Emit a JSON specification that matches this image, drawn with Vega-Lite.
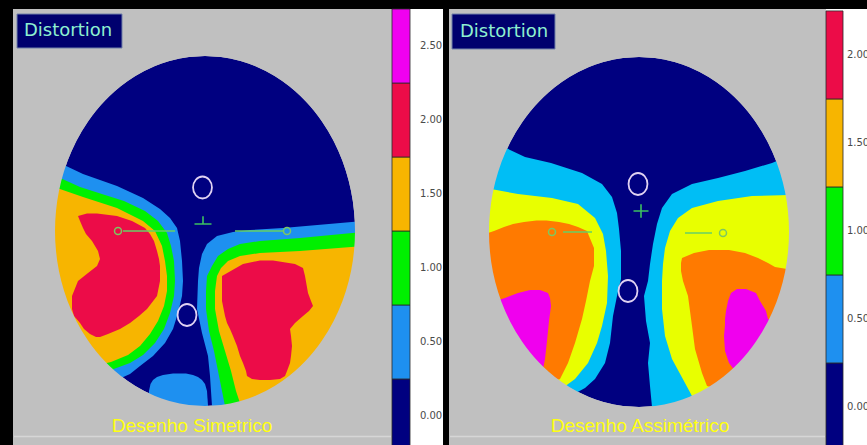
{
"$schema": "https://vega.github.io/schema/vega-lite/v6.json",
"background": "#000000",
"padding": {"left": 13, "top": 8, "right": 0, "bottom": 0},
"config": {"view": {"stroke": null}, "axis": {"disable": true}, "legend": {"disable": true}},
"datasets": {
"ell": [
{"y":35,"a":0,"b":0},{"y":34.8,"a":-3.2,"b":3.2},{"y":34.5,"a":-5.05,"b":5.05},{"y":34,"a":-7.12,"b":7.12},{"y":33.5,"a":-8.69,"b":8.69},{"y":33,"a":-10,"b":10},{"y":32,"a":-12.15,"b":12.15},{"y":31,"a":-13.93,"b":13.93},{"y":30,"a":-15.45,"b":15.45},{"y":29,"a":-16.8,"b":16.8},{"y":28,"a":-18,"b":18},{"y":27,"a":-19.09,"b":19.09},{"y":26,"a":-20.08,"b":20.08},{"y":25,"a":-21,"b":21},{"y":24,"a":-21.84,"b":21.84},{"y":23,"a":-22.61,"b":22.61},{"y":22,"a":-23.33,"b":23.33},{"y":20,"a":-24.62,"b":24.62},{"y":18,"a":-25.73,"b":25.73},{"y":16,"a":-26.68,"b":26.68},{"y":14,"a":-27.5,"b":27.5},{"y":12,"a":-28.18,"b":28.18},{"y":10,"a":-28.75,"b":28.75},{"y":8,"a":-29.21,"b":29.21},{"y":6,"a":-29.56,"b":29.56},{"y":4,"a":-29.8,"b":29.8},{"y":2,"a":-29.95,"b":29.95},{"y":0,"a":-30,"b":30},
{"y":-2,"a":-29.95,"b":29.95},{"y":-4,"a":-29.8,"b":29.8},{"y":-6,"a":-29.56,"b":29.56},{"y":-8,"a":-29.21,"b":29.21},{"y":-10,"a":-28.75,"b":28.75},{"y":-12,"a":-28.18,"b":28.18},{"y":-14,"a":-27.5,"b":27.5},{"y":-16,"a":-26.68,"b":26.68},{"y":-18,"a":-25.73,"b":25.73},{"y":-20,"a":-24.62,"b":24.62},{"y":-22,"a":-23.33,"b":23.33},{"y":-23,"a":-22.61,"b":22.61},{"y":-24,"a":-21.84,"b":21.84},{"y":-25,"a":-21,"b":21},{"y":-26,"a":-20.08,"b":20.08},{"y":-27,"a":-19.09,"b":19.09},{"y":-28,"a":-18,"b":18},{"y":-29,"a":-16.8,"b":16.8},{"y":-30,"a":-15.45,"b":15.45},{"y":-31,"a":-13.93,"b":13.93},{"y":-32,"a":-12.15,"b":12.15},{"y":-33,"a":-10,"b":10},{"y":-33.5,"a":-8.69,"b":8.69},{"y":-34,"a":-7.12,"b":7.12},{"y":-34.5,"a":-5.05,"b":5.05},{"y":-34.8,"a":-3.2,"b":3.2},{"y":-35,"a":0,"b":0}
],
"pcs": [
{"p":"L","k":"a1","v":1,"y":13.2,"a":-32,"b":-28.2},{"p":"L","k":"a1","v":1,"y":11.4,"a":-32,"b":-24.4},{"p":"L","k":"a1","v":1,"y":9,"a":-32,"b":-17.6},{"p":"L","k":"a1","v":1,"y":6.6,"a":-32,"b":-12.4},{"p":"L","k":"a1","v":1,"y":4.4,"a":-32,"b":-9},{"p":"L","k":"a1","v":1,"y":2.6,"a":-32,"b":-7},{"p":"L","k":"a1","v":1,"y":0.6,"a":-32,"b":-5.6},{"p":"L","k":"a1","v":1,"y":-2,"a":-32,"b":-5},{"p":"L","k":"a1","v":1,"y":-6,"a":-32,"b":-4.6},{"p":"L","k":"a1","v":1,"y":-10,"a":-32,"b":-4.4},{"p":"L","k":"a1","v":1,"y":-13,"a":-32,"b":-4.6},{"p":"L","k":"a1","v":1,"y":-16.4,"a":-32,"b":-5.4},{"p":"L","k":"a1","v":1,"y":-19.6,"a":-32,"b":-6.4},{"p":"L","k":"a1","v":1,"y":-22.4,"a":-32,"b":-8},{"p":"L","k":"a1","v":1,"y":-25,"a":-32,"b":-10.4},{"p":"L","k":"a1","v":1,"y":-27,"a":-32,"b":-13},{"p":"L","k":"a1","v":1,"y":-28.6,"a":-32,"b":-15},{"p":"L","k":"a1","v":1,"y":-29.5,"a":-32,"b":-17},
{"p":"L","k":"b1","v":1,"y":1.9,"a":30.5,"b":32},{"p":"L","k":"b1","v":1,"y":0.6,"a":15.6,"b":32},{"p":"L","k":"b1","v":1,"y":0.2,"a":9,"b":32},{"p":"L","k":"b1","v":1,"y":-0.2,"a":5.6,"b":32},{"p":"L","k":"b1","v":1,"y":-1,"a":2.4,"b":32},{"p":"L","k":"b1","v":1,"y":-2.6,"a":0.4,"b":32},{"p":"L","k":"b1","v":1,"y":-4.6,"a":-0.6,"b":32},{"p":"L","k":"b1","v":1,"y":-7.4,"a":-1.2,"b":32},{"p":"L","k":"b1","v":1,"y":-10,"a":-1.4,"b":32},{"p":"L","k":"b1","v":1,"y":-15.6,"a":-1.6,"b":32},{"p":"L","k":"b1","v":1,"y":-20.4,"a":-0.6,"b":32},{"p":"L","k":"b1","v":1,"y":-25,"a":0.6,"b":32},{"p":"L","k":"b1","v":1,"y":-29,"a":1,"b":32},{"p":"L","k":"b1","v":1,"y":-35,"a":1.4,"b":32},
{"p":"L","k":"c1","v":1,"y":-28.5,"a":-6.4,"b":-3.8},{"p":"L","k":"c1","v":1,"y":-28.8,"a":-8.4,"b":-2.4},{"p":"L","k":"c1","v":1,"y":-29.2,"a":-9.6,"b":-1.4},{"p":"L","k":"c1","v":1,"y":-29.8,"a":-10.4,"b":-0.6},{"p":"L","k":"c1","v":1,"y":-30.6,"a":-10.9,"b":0},{"p":"L","k":"c1","v":1,"y":-32,"a":-11.2,"b":0.4},{"p":"L","k":"c1","v":1,"y":-35,"a":-11.4,"b":0.6},
{"p":"L","k":"a2","v":2,"y":10.8,"a":-32,"b":-29.4},{"p":"L","k":"a2","v":2,"y":8.8,"a":-32,"b":-25},{"p":"L","k":"a2","v":2,"y":7.2,"a":-32,"b":-20},{"p":"L","k":"a2","v":2,"y":6,"a":-32,"b":-16.2},{"p":"L","k":"a2","v":2,"y":4,"a":-32,"b":-12},{"p":"L","k":"a2","v":2,"y":2,"a":-32,"b":-9.4},{"p":"L","k":"a2","v":2,"y":-0.4,"a":-32,"b":-7.6},{"p":"L","k":"a2","v":2,"y":-3,"a":-32,"b":-6.8},{"p":"L","k":"a2","v":2,"y":-6,"a":-32,"b":-6.2},{"p":"L","k":"a2","v":2,"y":-10,"a":-32,"b":-6},{"p":"L","k":"a2","v":2,"y":-13,"a":-32,"b":-6.2},{"p":"L","k":"a2","v":2,"y":-16.4,"a":-32,"b":-7},{"p":"L","k":"a2","v":2,"y":-19.6,"a":-32,"b":-8.2},{"p":"L","k":"a2","v":2,"y":-22.4,"a":-32,"b":-10},{"p":"L","k":"a2","v":2,"y":-24.8,"a":-32,"b":-12.4},{"p":"L","k":"a2","v":2,"y":-26.4,"a":-32,"b":-15},{"p":"L","k":"a2","v":2,"y":-27.8,"a":-32,"b":-18.8},
{"p":"L","k":"b2","v":2,"y":-0.3,"a":30.5,"b":32},{"p":"L","k":"b2","v":2,"y":-1.4,"a":19,"b":32},{"p":"L","k":"b2","v":2,"y":-2,"a":11,"b":32},{"p":"L","k":"b2","v":2,"y":-2.6,"a":7,"b":32},{"p":"L","k":"b2","v":2,"y":-3.6,"a":4.6,"b":32},{"p":"L","k":"b2","v":2,"y":-5,"a":2.6,"b":32},{"p":"L","k":"b2","v":2,"y":-7,"a":1.4,"b":32},{"p":"L","k":"b2","v":2,"y":-9,"a":0.4,"b":32},{"p":"L","k":"b2","v":2,"y":-12,"a":0.2,"b":32},{"p":"L","k":"b2","v":2,"y":-15.6,"a":0.2,"b":32},{"p":"L","k":"b2","v":2,"y":-20,"a":0.8,"b":32},{"p":"L","k":"b2","v":2,"y":-24,"a":1.8,"b":32},{"p":"L","k":"b2","v":2,"y":-28,"a":2.6,"b":32},{"p":"L","k":"b2","v":2,"y":-32,"a":3.4,"b":32},{"p":"L","k":"b2","v":2,"y":-35,"a":4,"b":32},
{"p":"L","k":"a3","v":3,"y":8.6,"a":-32,"b":-29.6},{"p":"L","k":"a3","v":3,"y":6.8,"a":-32,"b":-24.4},{"p":"L","k":"a3","v":3,"y":4.6,"a":-32,"b":-17.6},{"p":"L","k":"a3","v":3,"y":2,"a":-32,"b":-12.4},{"p":"L","k":"a3","v":3,"y":0,"a":-32,"b":-10},{"p":"L","k":"a3","v":3,"y":-3,"a":-32,"b":-8.6},{"p":"L","k":"a3","v":3,"y":-6,"a":-32,"b":-8},{"p":"L","k":"a3","v":3,"y":-9,"a":-32,"b":-7.6},{"p":"L","k":"a3","v":3,"y":-12,"a":-32,"b":-7.6},{"p":"L","k":"a3","v":3,"y":-15,"a":-32,"b":-8.2},{"p":"L","k":"a3","v":3,"y":-18,"a":-32,"b":-9.4},{"p":"L","k":"a3","v":3,"y":-20.6,"a":-32,"b":-11},{"p":"L","k":"a3","v":3,"y":-23,"a":-32,"b":-13},{"p":"L","k":"a3","v":3,"y":-24.8,"a":-32,"b":-15.4},{"p":"L","k":"a3","v":3,"y":-26.2,"a":-32,"b":-18.8},{"p":"L","k":"a3","v":3,"y":-26.6,"a":-32,"b":-20.5},
{"p":"L","k":"b3","v":3,"y":-3.1,"a":30.5,"b":32},{"p":"L","k":"b3","v":3,"y":-4,"a":19,"b":32},{"p":"L","k":"b3","v":3,"y":-4.4,"a":11,"b":32},{"p":"L","k":"b3","v":3,"y":-5,"a":7,"b":32},{"p":"L","k":"b3","v":3,"y":-6,"a":4.6,"b":32},{"p":"L","k":"b3","v":3,"y":-7.4,"a":3.2,"b":32},{"p":"L","k":"b3","v":3,"y":-9,"a":2.4,"b":32},{"p":"L","k":"b3","v":3,"y":-12,"a":2,"b":32},{"p":"L","k":"b3","v":3,"y":-15.6,"a":2,"b":32},{"p":"L","k":"b3","v":3,"y":-20,"a":2.8,"b":32},{"p":"L","k":"b3","v":3,"y":-24,"a":4,"b":32},{"p":"L","k":"b3","v":3,"y":-28,"a":5.2,"b":32},{"p":"L","k":"b3","v":3,"y":-32,"a":6.2,"b":32},{"p":"L","k":"b3","v":3,"y":-35,"a":7.2,"b":32},
{"p":"L","k":"a4","v":4,"y":3.5,"a":-23.6,"b":-21.6},{"p":"L","k":"a4","v":4,"y":3,"a":-25.4,"b":-17.6},{"p":"L","k":"a4","v":4,"y":2,"a":-25,"b":-14.6},{"p":"L","k":"a4","v":4,"y":0.6,"a":-24.4,"b":-12},{"p":"L","k":"a4","v":4,"y":-0.6,"a":-23.8,"b":-11},{"p":"L","k":"a4","v":4,"y":-2,"a":-22.6,"b":-10.2},{"p":"L","k":"a4","v":4,"y":-4,"a":-21.4,"b":-9.6},{"p":"L","k":"a4","v":4,"y":-5.6,"a":-21,"b":-9.2},{"p":"L","k":"a4","v":4,"y":-7,"a":-21.6,"b":-9},{"p":"L","k":"a4","v":4,"y":-8.4,"a":-23.4,"b":-9},{"p":"L","k":"a4","v":4,"y":-10,"a":-25.4,"b":-9},{"p":"L","k":"a4","v":4,"y":-13,"a":-26.6,"b":-9.6},{"p":"L","k":"a4","v":4,"y":-15.6,"a":-26.6,"b":-11.6},{"p":"L","k":"a4","v":4,"y":-17,"a":-26.2,"b":-13.2},{"p":"L","k":"a4","v":4,"y":-18.4,"a":-25,"b":-15},{"p":"L","k":"a4","v":4,"y":-19.6,"a":-24.2,"b":-17},{"p":"L","k":"a4","v":4,"y":-20.6,"a":-23,"b":-19.4},{"p":"L","k":"a4","v":4,"y":-21.2,"a":-21.8,"b":-21},
{"p":"L","k":"b4","v":4,"y":-5.9,"a":11,"b":13.6},{"p":"L","k":"b4","v":4,"y":-6.6,"a":7.6,"b":18},{"p":"L","k":"b4","v":4,"y":-7.4,"a":6.2,"b":19.6},{"p":"L","k":"b4","v":4,"y":-9,"a":3.4,"b":20},{"p":"L","k":"b4","v":4,"y":-12.4,"a":3.4,"b":20.6},{"p":"L","k":"b4","v":4,"y":-14,"a":3.4,"b":21.2},{"p":"L","k":"b4","v":4,"y":-15,"a":3.6,"b":21.6},{"p":"L","k":"b4","v":4,"y":-16,"a":3.8,"b":20.8},{"p":"L","k":"b4","v":4,"y":-17,"a":4,"b":19.6},{"p":"L","k":"b4","v":4,"y":-18.4,"a":4.4,"b":18},{"p":"L","k":"b4","v":4,"y":-19.6,"a":5,"b":17},{"p":"L","k":"b4","v":4,"y":-21,"a":5.6,"b":17.2},{"p":"L","k":"b4","v":4,"y":-23,"a":6.4,"b":17.4},{"p":"L","k":"b4","v":4,"y":-25,"a":7,"b":17.2},{"p":"L","k":"b4","v":4,"y":-26.4,"a":7.6,"b":17},{"p":"L","k":"b4","v":4,"y":-28,"a":8.2,"b":16.4},{"p":"L","k":"b4","v":4,"y":-29,"a":8.4,"b":16},{"p":"L","k":"b4","v":4,"y":-29.6,"a":9.4,"b":15},{"p":"L","k":"b4","v":4,"y":-29.8,"a":11,"b":13},
{"p":"R","k":"a1","v":1,"y":17,"a":-32,"b":-27},{"p":"R","k":"a1","v":1,"y":15,"a":-32,"b":-22.8},{"p":"R","k":"a1","v":1,"y":13.8,"a":-32,"b":-17.6},{"p":"R","k":"a1","v":1,"y":11.8,"a":-32,"b":-11.4},{"p":"R","k":"a1","v":1,"y":9.6,"a":-32,"b":-7.4},{"p":"R","k":"a1","v":1,"y":7,"a":-32,"b":-5.4},{"p":"R","k":"a1","v":1,"y":3.8,"a":-32,"b":-4.4},{"p":"R","k":"a1","v":1,"y":0.6,"a":-32,"b":-4},{"p":"R","k":"a1","v":1,"y":-3.8,"a":-32,"b":-3.6},{"p":"R","k":"a1","v":1,"y":-9.4,"a":-32,"b":-3.6},{"p":"R","k":"a1","v":1,"y":-12.8,"a":-32,"b":-4.4},{"p":"R","k":"a1","v":1,"y":-16.8,"a":-32,"b":-5.2},{"p":"R","k":"a1","v":1,"y":-22.2,"a":-32,"b":-5.8},{"p":"R","k":"a1","v":1,"y":-26.2,"a":-32,"b":-6.8},{"p":"R","k":"a1","v":1,"y":-29.4,"a":-32,"b":-8.8},{"p":"R","k":"a1","v":1,"y":-31.2,"a":-32,"b":-10.8},{"p":"R","k":"a1","v":1,"y":-32.3,"a":-32,"b":-12.8},
{"p":"R","k":"b1","v":1,"y":14.6,"a":28.5,"b":32},{"p":"R","k":"b1","v":1,"y":13.8,"a":26.6,"b":32},{"p":"R","k":"b1","v":1,"y":12.2,"a":21.2,"b":32},{"p":"R","k":"b1","v":1,"y":10.8,"a":15.8,"b":32},{"p":"R","k":"b1","v":1,"y":9.6,"a":10.6,"b":32},{"p":"R","k":"b1","v":1,"y":7.6,"a":6.6,"b":32},{"p":"R","k":"b1","v":1,"y":4.8,"a":4.6,"b":32},{"p":"R","k":"b1","v":1,"y":1.6,"a":3.6,"b":32},{"p":"R","k":"b1","v":1,"y":-2.4,"a":2.8,"b":32},{"p":"R","k":"b1","v":1,"y":-6.4,"a":2.2,"b":32},{"p":"R","k":"b1","v":1,"y":-9.8,"a":1.8,"b":32},{"p":"R","k":"b1","v":1,"y":-12.8,"a":1,"b":32},{"p":"R","k":"b1","v":1,"y":-17.8,"a":1.4,"b":32},{"p":"R","k":"b1","v":1,"y":-22.2,"a":2.2,"b":32},{"p":"R","k":"b1","v":1,"y":-26.2,"a":1.8,"b":32},{"p":"R","k":"b1","v":1,"y":-30.8,"a":2.2,"b":32},{"p":"R","k":"b1","v":1,"y":-35,"a":2.6,"b":32},
{"p":"R","k":"a2","v":2,"y":8.6,"a":-32,"b":-29.6},{"p":"R","k":"a2","v":2,"y":7.6,"a":-32,"b":-24.2},{"p":"R","k":"a2","v":2,"y":6.8,"a":-32,"b":-17.4},{"p":"R","k":"a2","v":2,"y":5.6,"a":-32,"b":-12.2},{"p":"R","k":"a2","v":2,"y":2.8,"a":-32,"b":-8.8},{"p":"R","k":"a2","v":2,"y":-0.4,"a":-32,"b":-7.2},{"p":"R","k":"a2","v":2,"y":-3.8,"a":-32,"b":-6.6},{"p":"R","k":"a2","v":2,"y":-8.8,"a":-32,"b":-6.2},{"p":"R","k":"a2","v":2,"y":-14.2,"a":-32,"b":-6.4},{"p":"R","k":"a2","v":2,"y":-18.8,"a":-32,"b":-7.4},{"p":"R","k":"a2","v":2,"y":-22.2,"a":-32,"b":-8.4},{"p":"R","k":"a2","v":2,"y":-26.2,"a":-32,"b":-10.2},{"p":"R","k":"a2","v":2,"y":-29.4,"a":-32,"b":-12.8},{"p":"R","k":"a2","v":2,"y":-31,"a":-32,"b":-15},
{"p":"R","k":"b2","v":2,"y":7.4,"a":30,"b":32},{"p":"R","k":"b2","v":2,"y":7.2,"a":22.6,"b":32},{"p":"R","k":"b2","v":2,"y":6.2,"a":15.8,"b":32},{"p":"R","k":"b2","v":2,"y":4.8,"a":10.6,"b":32},{"p":"R","k":"b2","v":2,"y":2.8,"a":7.8,"b":32},{"p":"R","k":"b2","v":2,"y":0.2,"a":6.2,"b":32},{"p":"R","k":"b2","v":2,"y":-3.2,"a":5.2,"b":32},{"p":"R","k":"b2","v":2,"y":-6.4,"a":4.8,"b":32},{"p":"R","k":"b2","v":2,"y":-9.8,"a":4.6,"b":32},{"p":"R","k":"b2","v":2,"y":-15.4,"a":4.6,"b":32},{"p":"R","k":"b2","v":2,"y":-20.8,"a":5.2,"b":32},{"p":"R","k":"b2","v":2,"y":-25.4,"a":6.6,"b":32},{"p":"R","k":"b2","v":2,"y":-30.2,"a":9.2,"b":32},{"p":"R","k":"b2","v":2,"y":-32.8,"a":10.6,"b":32},{"p":"R","k":"b2","v":2,"y":-35,"a":11,"b":32},
{"p":"R","k":"a3","v":3,"y":2.3,"a":-20.5,"b":-18.5},{"p":"R","k":"a3","v":3,"y":2,"a":-23,"b":-16},{"p":"R","k":"a3","v":3,"y":1.6,"a":-25.2,"b":-14},{"p":"R","k":"a3","v":3,"y":1,"a":-27,"b":-12.2},{"p":"R","k":"a3","v":3,"y":0.2,"a":-29,"b":-10.4},{"p":"R","k":"a3","v":3,"y":-0.8,"a":-32,"b":-10},{"p":"R","k":"a3","v":3,"y":-3.2,"a":-32,"b":-9},{"p":"R","k":"a3","v":3,"y":-6.8,"a":-32,"b":-9},{"p":"R","k":"a3","v":3,"y":-9.8,"a":-32,"b":-9.8},{"p":"R","k":"a3","v":3,"y":-13.8,"a":-32,"b":-10.6},{"p":"R","k":"a3","v":3,"y":-17.4,"a":-32,"b":-11.4},{"p":"R","k":"a3","v":3,"y":-22.2,"a":-32,"b":-12.8},{"p":"R","k":"a3","v":3,"y":-26.2,"a":-32,"b":-14.2},{"p":"R","k":"a3","v":3,"y":-29.4,"a":-32,"b":-15.8},{"p":"R","k":"a3","v":3,"y":-29.8,"a":-32,"b":-17},
{"p":"R","k":"b3","v":3,"y":-3.6,"a":14,"b":18},{"p":"R","k":"b3","v":3,"y":-4.2,"a":11,"b":21.2},{"p":"R","k":"b3","v":3,"y":-5.2,"a":8.6,"b":23.8},{"p":"R","k":"b3","v":3,"y":-6.2,"a":8.4,"b":25.8},{"p":"R","k":"b3","v":3,"y":-7,"a":8.4,"b":27.2},{"p":"R","k":"b3","v":3,"y":-7.8,"a":8.4,"b":32},{"p":"R","k":"b3","v":3,"y":-9.8,"a":8.8,"b":32},{"p":"R","k":"b3","v":3,"y":-12.8,"a":9.8,"b":32},{"p":"R","k":"b3","v":3,"y":-18.8,"a":10.6,"b":32},{"p":"R","k":"b3","v":3,"y":-23.4,"a":11.2,"b":32},{"p":"R","k":"b3","v":3,"y":-28.2,"a":12.6,"b":32},{"p":"R","k":"b3","v":3,"y":-30.8,"a":13.6,"b":32},{"p":"R","k":"b3","v":3,"y":-31.4,"a":16,"b":32},
{"p":"R","k":"a4","v":4,"y":-11.6,"a":-21.8,"b":-19.8},{"p":"R","k":"a4","v":4,"y":-12.2,"a":-24.2,"b":-18.2},{"p":"R","k":"a4","v":4,"y":-13.2,"a":-26.8,"b":-17.8},{"p":"R","k":"a4","v":4,"y":-14.8,"a":-32,"b":-17.6},{"p":"R","k":"a4","v":4,"y":-17.8,"a":-32,"b":-18},{"p":"R","k":"a4","v":4,"y":-21.8,"a":-32,"b":-18.4},{"p":"R","k":"a4","v":4,"y":-25.4,"a":-32,"b":-18.8},{"p":"R","k":"a4","v":4,"y":-27.4,"a":-32,"b":-19.2},{"p":"R","k":"a4","v":4,"y":-27.8,"a":-32,"b":-19.6},
{"p":"R","k":"b4","v":4,"y":-11.4,"a":19.6,"b":21.4},{"p":"R","k":"b4","v":4,"y":-12.2,"a":18.4,"b":23.4},{"p":"R","k":"b4","v":4,"y":-13.8,"a":17.8,"b":24.2},{"p":"R","k":"b4","v":4,"y":-15.8,"a":17.4,"b":25.4},{"p":"R","k":"b4","v":4,"y":-17.4,"a":17.2,"b":25.8},{"p":"R","k":"b4","v":4,"y":-18.6,"a":17.2,"b":32},{"p":"R","k":"b4","v":4,"y":-20.8,"a":17,"b":32},{"p":"R","k":"b4","v":4,"y":-23.8,"a":17.2,"b":32},{"p":"R","k":"b4","v":4,"y":-26.2,"a":18,"b":32},{"p":"R","k":"b4","v":4,"y":-27.8,"a":19.2,"b":32},{"p":"R","k":"b4","v":4,"y":-28.2,"a":21,"b":32}
],
"mk": [
{"p":"L","t":"ring","a":-0.5,"y":8.7},{"p":"L","t":"ring","a":-3.6,"y":-16.8},{"p":"L","t":"cross","a":-0.4,"y":2.0},{"p":"L","t":"dot","a":-17.4,"y":0},{"p":"L","t":"dot","a":16.4,"y":0},{"p":"L","t":"line","a":-16.4,"b":-6,"y":0},{"p":"L","t":"line","a":6,"b":15.6,"y":0},
{"p":"R","t":"ring","a":-0.2,"y":9.6},{"p":"R","t":"ring","a":-2.2,"y":-11.8},{"p":"R","t":"plus","a":0.4,"y":4.2},{"p":"R","t":"dot","a":-17.4,"y":0},{"p":"R","t":"dot","a":16.8,"y":-0.2},{"p":"R","t":"line","a":-15.2,"b":-9.4,"y":0},{"p":"R","t":"line","a":9.2,"b":14.6,"y":-0.2}
],
"barL": [
{"v":0,"lo":-0.25,"hi":0.25},{"v":0.5,"lo":0.25,"hi":0.75},{"v":1,"lo":0.75,"hi":1.25},{"v":1.5,"lo":1.25,"hi":1.75},{"v":2,"lo":1.75,"hi":2.25},{"v":2.5,"lo":2.25,"hi":2.75}
],
"barR": [
{"v":0,"lo":-0.25,"hi":0.25},{"v":0.5,"lo":0.25,"hi":0.75},{"v":1,"lo":0.75,"hi":1.25},{"v":1.5,"lo":1.25,"hi":1.75},{"v":2,"lo":1.75,"hi":2.25}
]
},
"spacing": 0,
"bounds": "flush",
"hconcat": [
{
"width": 379, "height": 437,
"view": {"fill": "#C0C0C0", "stroke": null},
"layer": [
{"data": {"name": "ell"}, "mark": {"type": "area", "orient": "horizontal", "color": "#000080"}, "encoding": {"x": {"field": "a", "type": "quantitative", "scale": {"domain": [-38.4, 37.4], "nice": false, "zero": false}, "axis": null, "stack": null}, "y": {"field": "y", "type": "quantitative", "scale": {"domain": [-43, 44.4], "nice": false, "zero": false}, "axis": null}, "x2": {"field": "b"}}},
{"data": {"name": "pcs"}, "transform": [{"filter": "datum.p==='L'&&datum.v===1"}], "mark": {"type": "area", "orient": "horizontal", "color": "#1E90F0"}, "encoding": {"x": {"field": "a", "type": "quantitative", "stack": null}, "y": {"field": "y", "type": "quantitative"}, "x2": {"field": "b"}, "detail": {"field": "k"}}},
{"data": {"name": "pcs"}, "transform": [{"filter": "datum.p==='L'&&datum.v===2"}], "mark": {"type": "area", "orient": "horizontal", "color": "#00F000"}, "encoding": {"x": {"field": "a", "type": "quantitative", "stack": null}, "y": {"field": "y", "type": "quantitative"}, "x2": {"field": "b"}, "detail": {"field": "k"}}},
{"data": {"name": "pcs"}, "transform": [{"filter": "datum.p==='L'&&datum.v===3"}], "mark": {"type": "area", "orient": "horizontal", "color": "#F7B500"}, "encoding": {"x": {"field": "a", "type": "quantitative", "stack": null}, "y": {"field": "y", "type": "quantitative"}, "x2": {"field": "b"}, "detail": {"field": "k"}}},
{"data": {"name": "pcs"}, "transform": [{"filter": "datum.p==='L'&&datum.v===4"}], "mark": {"type": "area", "orient": "horizontal", "color": "#EC0C48"}, "encoding": {"x": {"field": "a", "type": "quantitative", "stack": null}, "y": {"field": "y", "type": "quantitative"}, "x2": {"field": "b"}, "detail": {"field": "k"}}},
{"data": {"name": "ell"}, "mark": {"type": "area", "orient": "horizontal", "color": "#C0C0C0", "clip": true}, "encoding": {"x": {"field": "a", "type": "quantitative", "stack": null}, "y": {"field": "y", "type": "quantitative"}, "x2": {"datum": -45}}},
{"data": {"name": "ell"}, "mark": {"type": "area", "orient": "horizontal", "color": "#C0C0C0", "clip": true}, "encoding": {"x": {"field": "b", "type": "quantitative", "stack": null}, "y": {"field": "y", "type": "quantitative"}, "x2": {"datum": 45}}},
{"data": {"name": "mk"}, "transform": [{"filter": "datum.p==='L'&&datum.t==='line'"}], "mark": {"type": "rule", "color": "#66D066", "strokeWidth": 1.5}, "encoding": {"x": {"field": "a", "type": "quantitative"}, "y": {"field": "y", "type": "quantitative"}, "x2": {"field": "b"}}},
{"data": {"name": "mk"}, "transform": [{"filter": "datum.p==='L'&&datum.t==='ring'"}], "mark": {"type": "point", "shape": "M 0 -1 A 0.86 1 0 1 1 0 1 A 0.86 1 0 1 1 0 -1 Z", "filled": false, "stroke": "#E0D2F2", "strokeWidth": 1.8, "size": 484, "opacity": 1}, "encoding": {"x": {"field": "a", "type": "quantitative"}, "y": {"field": "y", "type": "quantitative"}}},
{"data": {"name": "mk"}, "transform": [{"filter": "datum.p==='L'&&datum.t==='cross'"}], "mark": {"type": "point", "shape": "M -1 0.35 L 1 0.35 M 0 -0.55 L 0 0.35", "filled": false, "stroke": "#3CC060", "strokeWidth": 1.6, "size": 289, "opacity": 1}, "encoding": {"x": {"field": "a", "type": "quantitative"}, "y": {"field": "y", "type": "quantitative"}}},
{"data": {"name": "mk"}, "transform": [{"filter": "datum.p==='L'&&datum.t==='dot'"}], "mark": {"type": "point", "shape": "circle", "filled": false, "stroke": "#7CC860", "strokeWidth": 1.5, "size": 49, "opacity": 1}, "encoding": {"x": {"field": "a", "type": "quantitative"}, "y": {"field": "y", "type": "quantitative"}}},
{"data": {"values": [{"t": "Distortion"}]}, "mark": {"type": "rect", "fill": "#00006E", "stroke": "#7080A8", "strokeWidth": 1}, "encoding": {"x": {"datum": -37.6, "type": "quantitative"}, "x2": {"datum": -16.6}, "y": {"datum": 43.4, "type": "quantitative"}, "y2": {"datum": 36.6}}},
{"data": {"values": [{"t": "Distortion"}]}, "mark": {"type": "text", "align": "left", "baseline": "middle", "font": "DejaVu Sans", "fontSize": 18, "color": "#8EF0D0"}, "encoding": {"x": {"datum": -36.2, "type": "quantitative"}, "y": {"datum": 40, "type": "quantitative"}, "text": {"field": "t"}}},
{"data": {"values": [{"t": "Desenho Simetrico"}]}, "mark": {"type": "text", "align": "center", "baseline": "middle", "font": "Liberation Sans", "fontSize": 19, "color": "#FFFF10"}, "encoding": {"x": {"datum": -2.6, "type": "quantitative"}, "y": {"datum": -39, "type": "quantitative"}, "text": {"field": "t"}}},
{"data": {"values": [{"t": "frame"}]}, "mark": {"type": "rule", "color": "#D6D6D6", "strokeWidth": 1.5}, "encoding": {"x": {"datum": -38.2, "type": "quantitative"}, "x2": {"datum": 37.2}, "y": {"datum": -41.1, "type": "quantitative"}}}
]
},
{
"width": 57, "height": 437,
"view": {"fill": "#FFFFFF", "stroke": null},
"data": {"name": "barL"},
"layer": [
{"mark": {"type": "rect", "stroke": "#2A2A2A", "strokeWidth": 0.8}, "encoding": {"x": {"datum": 0, "type": "quantitative", "scale": {"domain": [0, 1], "nice": false, "zero": false}, "axis": null}, "x2": {"datum": 0.316}, "y": {"field": "lo", "type": "quantitative", "scale": {"domain": [-0.203, 2.75], "nice": false, "zero": false}, "axis": null}, "y2": {"field": "hi"}, "color": {"field": "v", "type": "ordinal", "scale": {"domain": [0, 0.5, 1, 1.5, 2, 2.5], "range": ["#000080", "#1E90F0", "#00F000", "#F7B500", "#EC0C48", "#F000F0"]}, "legend": null}}},
{"mark": {"type": "text", "align": "left", "baseline": "middle", "font": "DejaVu Sans", "fontSize": 10, "color": "#4A4A4A"}, "encoding": {"x": {"datum": 0.49, "type": "quantitative"}, "y": {"field": "v", "type": "quantitative"}, "text": {"field": "v", "type": "quantitative", "format": ".2f"}}},
{"data": {"values": [{"t": "gap"}]}, "mark": {"type": "rect", "color": "#000000"}, "encoding": {"x": {"datum": 0.895, "type": "quantitative"}, "x2": {"datum": 1}, "y": {"datum": -0.203, "type": "quantitative"}, "y2": {"datum": 2.75}}}
]
},
{
"width": 377, "height": 437,
"view": {"fill": "#C0C0C0", "stroke": null},
"layer": [
{"data": {"name": "ell"}, "mark": {"type": "area", "orient": "horizontal", "color": "#000080"}, "encoding": {"x": {"field": "a", "type": "quantitative", "scale": {"domain": [-38, 37.4], "nice": false, "zero": false}, "axis": null, "stack": null}, "y": {"field": "y", "type": "quantitative", "scale": {"domain": [-42.8, 44.6], "nice": false, "zero": false}, "axis": null}, "x2": {"field": "b"}}},
{"data": {"name": "pcs"}, "transform": [{"filter": "datum.p==='R'&&datum.v===1"}], "mark": {"type": "area", "orient": "horizontal", "color": "#00BEF5"}, "encoding": {"x": {"field": "a", "type": "quantitative", "stack": null}, "y": {"field": "y", "type": "quantitative"}, "x2": {"field": "b"}, "detail": {"field": "k"}}},
{"data": {"name": "pcs"}, "transform": [{"filter": "datum.p==='R'&&datum.v===2"}], "mark": {"type": "area", "orient": "horizontal", "color": "#E8FF00"}, "encoding": {"x": {"field": "a", "type": "quantitative", "stack": null}, "y": {"field": "y", "type": "quantitative"}, "x2": {"field": "b"}, "detail": {"field": "k"}}},
{"data": {"name": "pcs"}, "transform": [{"filter": "datum.p==='R'&&datum.v===3"}], "mark": {"type": "area", "orient": "horizontal", "color": "#FF7A00"}, "encoding": {"x": {"field": "a", "type": "quantitative", "stack": null}, "y": {"field": "y", "type": "quantitative"}, "x2": {"field": "b"}, "detail": {"field": "k"}}},
{"data": {"name": "pcs"}, "transform": [{"filter": "datum.p==='R'&&datum.v===4"}], "mark": {"type": "area", "orient": "horizontal", "color": "#F000EE"}, "encoding": {"x": {"field": "a", "type": "quantitative", "stack": null}, "y": {"field": "y", "type": "quantitative"}, "x2": {"field": "b"}, "detail": {"field": "k"}}},
{"data": {"name": "ell"}, "mark": {"type": "area", "orient": "horizontal", "color": "#C0C0C0", "clip": true}, "encoding": {"x": {"field": "a", "type": "quantitative", "stack": null}, "y": {"field": "y", "type": "quantitative"}, "x2": {"datum": -45}}},
{"data": {"name": "ell"}, "mark": {"type": "area", "orient": "horizontal", "color": "#C0C0C0", "clip": true}, "encoding": {"x": {"field": "b", "type": "quantitative", "stack": null}, "y": {"field": "y", "type": "quantitative"}, "x2": {"datum": 45}}},
{"data": {"name": "mk"}, "transform": [{"filter": "datum.p==='R'&&datum.t==='line'"}], "mark": {"type": "rule", "color": "#66D066", "strokeWidth": 1.5}, "encoding": {"x": {"field": "a", "type": "quantitative"}, "y": {"field": "y", "type": "quantitative"}, "x2": {"field": "b"}}},
{"data": {"name": "mk"}, "transform": [{"filter": "datum.p==='R'&&datum.t==='ring'"}], "mark": {"type": "point", "shape": "M 0 -1 A 0.86 1 0 1 1 0 1 A 0.86 1 0 1 1 0 -1 Z", "filled": false, "stroke": "#E0D2F2", "strokeWidth": 1.8, "size": 484, "opacity": 1}, "encoding": {"x": {"field": "a", "type": "quantitative"}, "y": {"field": "y", "type": "quantitative"}}},
{"data": {"name": "mk"}, "transform": [{"filter": "datum.p==='R'&&datum.t==='plus'"}], "mark": {"type": "point", "shape": "M -1 0 L 1 0 M 0 -0.9 L 0 0.9", "filled": false, "stroke": "#3CC060", "strokeWidth": 1.6, "size": 225, "opacity": 1}, "encoding": {"x": {"field": "a", "type": "quantitative"}, "y": {"field": "y", "type": "quantitative"}}},
{"data": {"name": "mk"}, "transform": [{"filter": "datum.p==='R'&&datum.t==='dot'"}], "mark": {"type": "point", "shape": "circle", "filled": false, "stroke": "#7CC860", "strokeWidth": 1.5, "size": 49, "opacity": 1}, "encoding": {"x": {"field": "a", "type": "quantitative"}, "y": {"field": "y", "type": "quantitative"}}},
{"data": {"values": [{"t": "Distortion"}]}, "mark": {"type": "rect", "fill": "#00006E", "stroke": "#7080A8", "strokeWidth": 1}, "encoding": {"x": {"datum": -37.4, "type": "quantitative"}, "x2": {"datum": -16.8}, "y": {"datum": 43.6, "type": "quantitative"}, "y2": {"datum": 36.6}}},
{"data": {"values": [{"t": "Distortion"}]}, "mark": {"type": "text", "align": "left", "baseline": "middle", "font": "DejaVu Sans", "fontSize": 18, "color": "#8EF0D0"}, "encoding": {"x": {"datum": -35.8, "type": "quantitative"}, "y": {"datum": 40, "type": "quantitative"}, "text": {"field": "t"}}},
{"data": {"values": [{"t": "Desenho Assimétrico"}]}, "mark": {"type": "text", "align": "center", "baseline": "middle", "font": "Liberation Sans", "fontSize": 19, "color": "#FFFF10"}, "encoding": {"x": {"datum": 0.2, "type": "quantitative"}, "y": {"datum": -38.8, "type": "quantitative"}, "text": {"field": "t"}}},
{"data": {"values": [{"t": "frame"}]}, "mark": {"type": "rule", "color": "#D6D6D6", "strokeWidth": 1.5}, "encoding": {"x": {"datum": -37.8, "type": "quantitative"}, "x2": {"datum": 37.2}, "y": {"datum": -40.9, "type": "quantitative"}}}
]
},
{
"width": 41, "height": 437,
"view": {"fill": "#FFFFFF", "stroke": null},
"data": {"name": "barR"},
"layer": [
{"mark": {"type": "rect", "stroke": "#2A2A2A", "strokeWidth": 0.8}, "encoding": {"x": {"datum": 0, "type": "quantitative", "scale": {"domain": [0, 1], "nice": false, "zero": false}, "axis": null}, "x2": {"datum": 0.415}, "y": {"field": "lo", "type": "quantitative", "scale": {"domain": [-0.222, 2.261], "nice": false, "zero": false}, "axis": null}, "y2": {"field": "hi"}, "color": {"field": "v", "type": "ordinal", "scale": {"domain": [0, 0.5, 1, 1.5, 2], "range": ["#000080", "#00BEF5", "#E8FF00", "#FF7A00", "#F000F0"]}, "legend": null}}},
{"mark": {"type": "text", "align": "left", "baseline": "middle", "font": "DejaVu Sans", "fontSize": 10, "color": "#4A4A4A", "clip": true}, "encoding": {"x": {"datum": 0.51, "type": "quantitative"}, "y": {"field": "v", "type": "quantitative"}, "text": {"field": "v", "type": "quantitative", "format": ".2f"}}}
]
}
]
}
